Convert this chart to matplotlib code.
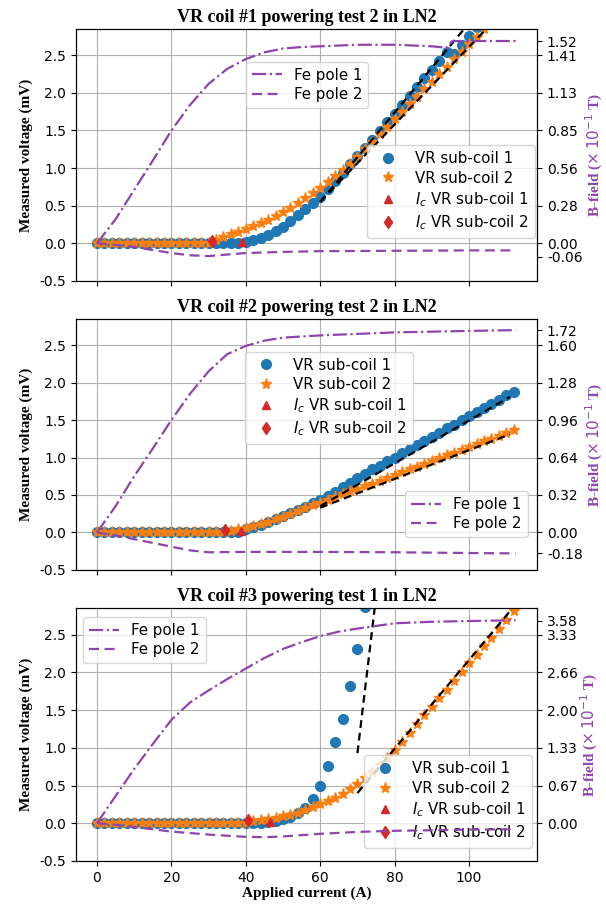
import matplotlib
matplotlib.use("Agg")
import matplotlib.pyplot as plt

# ---- panel 1: VR coil #1 powering test 2 ----
p1_current = list(range(0, 106, 2))
p1_coil1 = [0.0, 0.0, 0.0, 0.0, 0.0, 0.0, 0.0, 0.0, 0.0, 0.0,
            0.0, 0.0, 0.0, 0.0, 0.0, 0.0, 0.0, 0.0, 0.0,
            0.01, 0.02, 0.04, 0.07, 0.11, 0.16, 0.22, 0.29, 0.37, 0.46, 0.54,
            0.62, 0.72, 0.83, 0.94, 1.05, 1.16, 1.27, 1.38, 1.49, 1.61,
            1.72, 1.84, 1.96, 2.08, 2.20, 2.31, 2.43, 2.55, 2.52, 2.64,
            2.76, 2.88, 3.00]
p1_coil2 = [0.0, 0.0, 0.0, 0.0, 0.0, 0.0, 0.0, 0.0, 0.0, 0.0,
            0.0, 0.0, 0.0, 0.0, 0.0, 0.0,
            0.05, 0.08, 0.12, 0.15, 0.19, 0.23, 0.27, 0.31, 0.36, 0.41,
            0.47, 0.53, 0.60, 0.67, 0.74, 0.82, 0.90, 0.98, 1.06, 1.15,
            1.25, 1.35, 1.45, 1.55, 1.65, 1.75, 1.85, 1.95, 2.05, 2.15,
            2.25, 2.35, 2.45, 2.55, 2.65, 2.75, 2.85]
p1_fit1 = ([60, 99], [0.55, 2.87])
p1_fit2 = ([60, 105], [0.55, 2.87])
p1_ic1 = (39, 0.02)
p1_ic2 = (31, 0.03)
p1_fe_current = [0, 5, 10, 15, 20, 25, 30, 35, 40, 45, 50, 55, 60, 70, 80, 90, 94, 95.5, 100, 112.5]
p1_fe1 = [0, 0.32, 0.71, 1.1, 1.5, 1.84, 2.12, 2.32, 2.45, 2.54, 2.59, 2.61, 2.62, 2.64, 2.64, 2.62, 2.6, 2.69, 2.69, 2.69]
p1_fe2_current = [0, 5, 10, 15, 20, 25, 30, 35, 40, 50, 60, 80, 100, 112.5]
p1_fe2 = [0, -0.02, -0.05, -0.09, -0.13, -0.16, -0.17, -0.15, -0.13, -0.115, -0.105, -0.10, -0.095, -0.095]
p1_bticks = [-0.177, 0, 0.5, 1.0, 1.5, 2.0, 2.5, 2.69]
p1_blabels = ["-0.06", "0.00", "0.28", "0.56", "0.85", "1.13", "1.41", "1.52"]

# ---- panel 2: VR coil #2 powering test 2 ----
p2_current = list(range(0, 114, 2))
p2_coil1 = [0.0, 0.0, 0.0, 0.0, 0.0, 0.0, 0.0, 0.0, 0.0, 0.0,
            0.0, 0.0, 0.0, 0.0, 0.0, 0.0, 0.0, 0.0, 0.0,
            0.01, 0.04, 0.07, 0.10, 0.14, 0.18, 0.22, 0.26, 0.30, 0.34, 0.39,
            0.43, 0.48, 0.54, 0.60, 0.66, 0.72, 0.78, 0.84, 0.89, 0.95,
            1.00, 1.06, 1.11, 1.17, 1.22, 1.28, 1.33, 1.39, 1.44, 1.50,
            1.55, 1.61, 1.66, 1.72, 1.77, 1.83, 1.88]
p2_coil2 = [0.0, 0.0, 0.0, 0.0, 0.0, 0.0, 0.0, 0.0, 0.0, 0.0,
            0.0, 0.0, 0.0, 0.0, 0.0, 0.0, 0.0, 0.0,
            0.02, 0.04, 0.06, 0.09, 0.11, 0.14, 0.18, 0.21, 0.25, 0.28, 0.32,
            0.36, 0.39, 0.43, 0.47, 0.51, 0.55, 0.58, 0.62, 0.65, 0.69,
            0.72, 0.76, 0.80, 0.84, 0.87, 0.91, 0.95, 0.99, 1.03, 1.06,
            1.10, 1.14, 1.18, 1.22, 1.25, 1.29, 1.33, 1.37]
p2_fit1 = ([60, 111], [0.35, 1.81])
p2_fit2 = ([60, 111], [0.33, 1.31])
p2_ic1 = (38.6, 0.02)
p2_ic2 = (34.5, 0.03)
p2_fe_current = [0, 5, 10, 15, 20, 25, 30, 35, 40, 45, 50, 60, 80, 100, 112.5]
p2_fe1 = [0, 0.35, 0.75, 1.12, 1.5, 1.85, 2.15, 2.38, 2.49, 2.56, 2.6, 2.63, 2.67, 2.69, 2.7]
p2_fe2_current = [0, 5, 10, 15, 20, 25, 30, 40, 60, 80, 100, 112.5]
p2_fe2 = [0, -0.04, -0.09, -0.14, -0.19, -0.24, -0.265, -0.26, -0.26, -0.265, -0.275, -0.28]
p2_bticks = [-0.28, 0, 0.5, 1.0, 1.5, 2.0, 2.5, 2.70]
p2_blabels = ["-0.18", "0.00", "0.32", "0.64", "0.96", "1.28", "1.60", "1.72"]

# ---- panel 3: VR coil #3 powering test 1 ----
p3_current1 = list(range(0, 74, 2))
p3_coil1 = [0.0, 0.0, 0.0, 0.0, 0.0, 0.0, 0.0, 0.0, 0.0, 0.0,
            0.0, 0.0, 0.0, 0.0, 0.0, 0.0, 0.0, 0.0, 0.0, 0.0,
            0.0, 0.0, 0.0,
            0.01, 0.03, 0.05, 0.08, 0.14, 0.20, 0.32, 0.50, 0.76, 1.08, 1.38,
            1.82, 2.31, 2.87]
p3_current2 = list(range(0, 114, 2))
p3_coil2 = [0.0, 0.0, 0.0, 0.0, 0.0, 0.0, 0.0, 0.0, 0.0, 0.0,
            0.0, 0.0, 0.0, 0.0, 0.0, 0.0, 0.0, 0.0, 0.0, 0.0, 0.0,
            0.03, 0.04, 0.05, 0.07, 0.09, 0.11, 0.14, 0.18, 0.22, 0.26,
            0.30, 0.34, 0.39, 0.45, 0.52, 0.60, 0.68, 0.77, 0.87, 0.97,
            1.08, 1.20, 1.31, 1.43, 1.54, 1.66, 1.77, 1.89, 2.00, 2.12,
            2.23, 2.35, 2.46, 2.58, 2.69, 2.81]
p3_fit1 = ([70, 75], [0.93, 3.0])
p3_fit2 = ([70, 111], [0.40, 2.81])
p3_ic1 = (46.5, 0.02)
p3_ic2 = (40.6, 0.04)
p3_fe_current = [0, 5, 10, 15, 20, 25, 30, 35, 40, 45, 50, 55, 60, 65, 70, 80, 90, 100, 112.5]
p3_fe1 = [0, 0.36, 0.72, 1.05, 1.37, 1.6, 1.76, 1.91, 2.05, 2.19, 2.31, 2.4, 2.48, 2.54, 2.58, 2.65, 2.67, 2.68, 2.69]
p3_fe2_current = [0, 5, 10, 15, 20, 30, 40, 45, 50, 60, 70, 80, 100, 112.5]
p3_fe2 = [0, -0.02, -0.05, -0.08, -0.11, -0.15, -0.18, -0.185, -0.175, -0.14, -0.115, -0.10, -0.085, -0.08]
p3_bticks = [0, 0.5, 1.0, 1.5, 2.0, 2.5, 2.685]
p3_blabels = ["0.00", "0.67", "1.33", "2.00", "2.66", "3.33", "3.58"]

titles = ["VR coil #1 powering test 2 in LN2",
          "VR coil #2 powering test 2 in LN2",
          "VR coil #3 powering test 1 in LN2"]

BLUE = "#1f77b4"
ORANGE = "#ff7f0e"
RED = "#d62728"
PURPLE = "#8e44ad"
SERIF = "Liberation Serif"
TICK_FS = 10
LEG_FS = 10.8


def draw_panel(ax, c1x, c1y, c2x, c2y, fit1, fit2, ic1, ic2,
               fex, fe1, fe2x, fe2, bticks, blabels, title,
               vr_loc, vr_anchor, fe_loc, fe_anchor):
    ax.grid(True, color="#b0b0b0", linewidth=0.8)
    ax.set_axisbelow(True)
    ax.plot(c1x, c1y, "o", color=BLUE, ms=7, label="VR sub-coil 1", zorder=3)
    ax.plot(c2x, c2y, "*", color=ORANGE, ms=8, label="VR sub-coil 2", zorder=3)
    ax.plot([ic1[0]], [ic1[1]], "^", color=RED, ms=6, label="$I_c$ VR sub-coil 1", zorder=4)
    ax.plot([ic2[0]], [ic2[1]], "d", color=RED, ms=6, label="$I_c$ VR sub-coil 2", zorder=4)
    ax.plot(fit1[0], fit1[1], color="black", lw=1.6, dashes=(3.5, 2.2), zorder=5)
    ax.plot(fit2[0], fit2[1], color="black", lw=1.6, dashes=(3.5, 2.2), zorder=5)
    ax.set_xlim(-5.64, 118.3)
    ax.set_ylim(-0.5, 2.85)
    ax.set_yticks([-0.5, 0.0, 0.5, 1.0, 1.5, 2.0, 2.5])
    ax.set_yticklabels(["-0.5", "0.0", "0.5", "1.0", "1.5", "2.0", "2.5"])
    ax.set_xticks([0, 20, 40, 60, 80, 100])
    ax.tick_params(labelsize=TICK_FS)
    ax.set_ylabel("Measured voltage (mV)", family=SERIF, weight="bold", fontsize=11,
                  labelpad=5)
    ax.set_title(title, family=SERIF, weight="bold", fontsize=13, pad=5)
    ax.legend(loc=vr_loc, bbox_to_anchor=vr_anchor, fontsize=LEG_FS, numpoints=1,
              borderaxespad=0, labelspacing=0.3)

    ax2 = ax.twinx()
    ax2.plot(fex, fe1, "-.", color=PURPLE, lw=1.6, label="Fe pole 1")
    ax2.plot(fe2x, fe2, color=PURPLE, lw=1.6, dashes=(4.5, 2.5), label="Fe pole 2")
    ax2.set_ylim(-0.5, 2.85)
    ax2.set_yticks(bticks)
    ax2.set_yticklabels(blabels)
    ax2.tick_params(labelsize=TICK_FS)
    ax2.set_ylabel("B-field ($\\times\\,10^{-1}$ T)", family=SERIF, weight="bold",
                   fontsize=11, color=PURPLE, labelpad=1)
    ax2.legend(loc=fe_loc, bbox_to_anchor=fe_anchor, fontsize=LEG_FS, borderaxespad=0,
               labelspacing=0.3)
    return ax2


fig = plt.figure(figsize=(6.06, 9.06), dpi=100)
rects = [[0.1254, 0.690, 0.761, 0.278],
         [0.1254, 0.371, 0.761, 0.277],
         [0.1254, 0.0497, 0.761, 0.279]]
axes = [fig.add_axes(r) for r in rects]
for a in axes[1:]:
    a.sharex(axes[0])

draw_panel(axes[0], p1_current, p1_coil1, p1_current, p1_coil2, p1_fit1, p1_fit2,
           p1_ic1, p1_ic2, p1_fe_current, p1_fe1, p1_fe2_current, p1_fe2,
           p1_bticks, p1_blabels, titles[0],
           "lower right", (0.995, 0.17), "upper left", (0.368, 0.87))
draw_panel(axes[1], p2_current, p2_coil1, p2_current, p2_coil2, p2_fit1, p2_fit2,
           p2_ic1, p2_ic2, p2_fe_current, p2_fe1, p2_fe2_current, p2_fe2,
           p2_bticks, p2_blabels, titles[1],
           "upper left", (0.366, 0.87), "lower right", (0.98, 0.129))
draw_panel(axes[2], p3_current1, p3_coil1, p3_current2, p3_coil2, p3_fit1, p3_fit2,
           p3_ic1, p3_ic2, p3_fe_current, p3_fe1, p3_fe2_current, p3_fe2,
           p3_bticks, p3_blabels, titles[2],
           "lower right", (0.989, 0.05), "upper left", (0.016, 0.966))

for a in axes[:2]:
    a.tick_params(labelbottom=False)
axes[2].set_xlabel("Applied current (A)", family=SERIF, weight="bold", fontsize=11,
                   labelpad=1)

fig.savefig("out.png", dpi=100)
